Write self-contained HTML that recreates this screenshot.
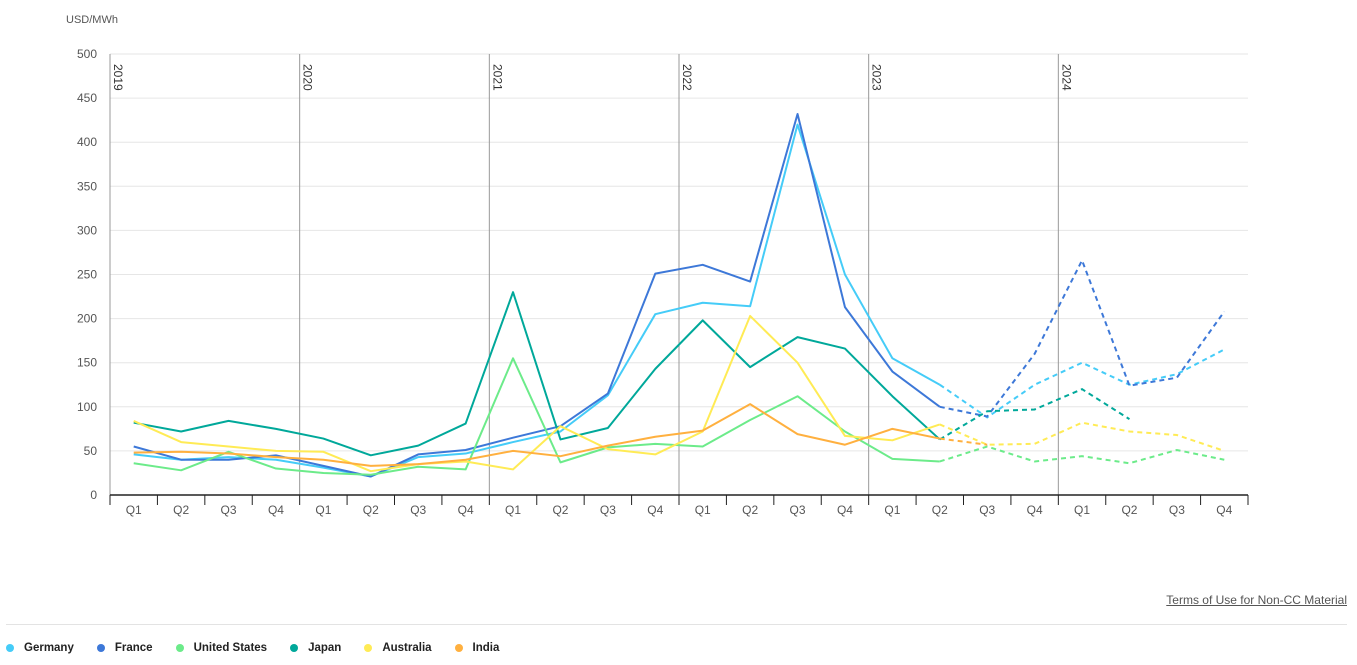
<!DOCTYPE html>
<html><head><meta charset="utf-8"><style>
body{margin:0;background:#fff;font-family:"Liberation Sans",sans-serif;width:1357px;height:665px;overflow:hidden;position:relative}
svg{position:absolute;left:0;top:0}
.legend{position:absolute;left:6px;top:642px;font-size:11.5px;font-weight:bold;color:#222;display:flex}
.li{display:flex;align-items:center;margin-right:23px}
.dot{width:8px;height:8px;border-radius:50%;margin-right:10px}
.terms{position:absolute;right:10px;top:593px;font-size:12px;color:#555;text-decoration:underline}
.sep{position:absolute;left:6px;right:10px;top:624px;height:1px;background:#e3e3e3}
</style></head><body>
<svg id="chart" width="1357" height="620"></svg>
<a class="terms">Terms of Use for Non-CC Material</a>
<div class="sep"></div>
<div class="legend" id="legend"></div>
<script>
const years=["2019","2020","2021","2022","2023","2024"];
const quarters=["Q1","Q2","Q3","Q4"];
const yTicks=[0,50,100,150,200,250,300,350,400,450,500];
const seriesNames=["Germany","France","United States","Japan","Australia","India"];
const germany=[46,40,43,40,31,21,43,47,60,72,113,205,218,214,420,250,155,125,88,125,150,125,137,165];
const france=[55,40,40,45,33,21,46,51,65,78,115,251,261,242,432,213,140,100,89,160,266,124,133,208];
const unitedStates=[36,28,49,30,25,23,32,29,155,37,54,58,55,85,112,72,41,38,55,38,44,36,51,40];
const japan=[82,72,84,75,64,45,56,81,230,63,76,143,198,145,179,166,112,63,95,97,120,86];
const australia=[84,60,55,50,49,27,35,38,29,78,52,46,72,203,150,67,62,80,57,58,82,72,68,50];
const india=[48,49,47,43,40,33,35,40,50,44,56,66,73,103,69,57,75,64,57];
const colors=["#45CCF8","#3D78D8","#6CEB8A","#00A89A","#FFEB55","#FFB03F"];
const forecastStart=17;
const data=[germany,france,unitedStates,japan,australia,india];
const NS="http://www.w3.org/2000/svg";
const svg=document.getElementById('chart');
const x0=110,x1=1248,y0=495,y1=54;
const n=years.length*4,bw=(x1-x0)/n;
const xs=i=>x0+bw*(i+0.5);
const ys=v=>y0-(v/500)*(y0-y1);
function mk(t,a){const e=document.createElementNS(NS,t);for(const k in a)e.setAttribute(k,a[k]);svg.appendChild(e);return e;}
function tx(x,y,s,a){const e=mk('text',Object.assign({x:x,y:y,'font-size':12,fill:'#555','font-family':'Liberation Sans, sans-serif'},a||{}));e.textContent=s;return e;}
yTicks.forEach(v=>{
 const g=mk('line',{x1:x0,x2:x1,y1:ys(v),y2:ys(v),stroke:'#e6e6e6'});
 
 
 const t=tx(97,ys(v)+4,String(v),{'text-anchor':'end'});
 
 
});
const ut=tx(66,23,'USD/MWh',{'font-size':11});


years.forEach((y,j)=>{
 const x=x0+bw*4*j;
 const l=mk('line',{x1:x,x2:x,y1:y1,y2:y0,stroke:'#999'});
 
 
 const t=tx(x+4,64,y,{transform:'rotate(90 '+(x+4)+' 64)','font-size':12,fill:'#333'});
 
 
});
const ax=mk('line',{x1:x0,x2:x1,y1:y0,y2:y0,stroke:'#222','stroke-width':1.5});


for(let i=0;i<=n;i++){const x=x0+bw*i;const t=mk('line',{x1:x,x2:x,y1:y0,y2:y0+10,stroke:'#222'});
 
 }
for(let i=0;i<n;i++){const t=tx(xs(i),514,quarters[i%4],{'text-anchor':'middle'});
 
 }
function pts(arr,a,b){const p=[];for(let i=a;i<=Math.min(b,arr.length-1);i++)p.push(xs(i)+','+ys(arr[i]));return p.join(' ');}
data.forEach((arr,k)=>{
 const s=mk('polyline',{points:pts(arr,0,forecastStart),fill:'none',stroke:colors[k],'stroke-width':2,'stroke-linejoin':'round'});
 
 
 if(arr.length>forecastStart+1){
  const d=mk('polyline',{points:pts(arr,forecastStart,n),fill:'none',stroke:colors[k],'stroke-width':2,'stroke-dasharray':'5,4'});
  
  
 }
});
const lg=document.getElementById('legend');
seriesNames.forEach((s,k)=>{
 const d=document.createElement('div');d.className='li';
 
 
 d.innerHTML='<span class="dot" style="background:'+colors[k]+'"></span>'+s;
 lg.appendChild(d);
});
</script>
</body></html>
